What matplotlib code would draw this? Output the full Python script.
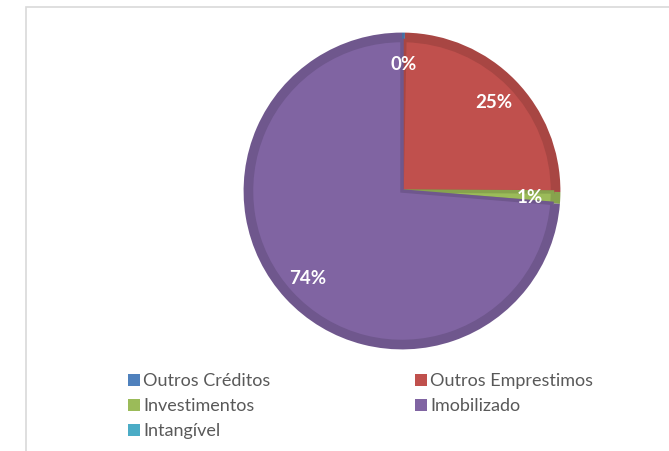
import matplotlib
matplotlib.use("Agg")
import matplotlib.pyplot as plt
from matplotlib.patches import Rectangle

# data
categories = ["Outros Créditos", "Outros Emprestimos", "Investimentos", "Imobilizado", "Intangível"]
values = [0.3, 24.8, 1.2, 73.7, 0.0]
colors = ["#4F81BD", "#C0504D", "#9BBB59", "#8064A2", "#4BACC6"]
rims = ["#446FA2", "#A84643", "#87A34D", "#6F578D", "#4196AD"]

W, H = 669, 452
fig = plt.figure(figsize=(W / 100, H / 100), dpi=100)

# chart area frame
fig.patches.append(Rectangle((26 / W, -0.1), 1.2, (H - 8) / H + 0.1, transform=fig.transFigure,
                             fill=False, edgecolor="#D9D9D9", linewidth=1.2))

cx, cy, r = 402, 192, 160
ax = fig.add_axes([(cx - r) / W, (H - cy - r) / H, 2 * r / W, 2 * r / H])

# dark rim, then the lighter inner face
ax.pie(values, colors=rims, startangle=90, counterclock=False, radius=1.0,
       wedgeprops=dict(linewidth=0))
wedges, _, autotexts = ax.pie(values, colors=colors, startangle=90, counterclock=False, radius=0.95,
                              autopct=lambda p: "%.0f%%" % p, pctdistance=0.85,
                              wedgeprops=dict(linewidth=2.5),
                              textprops=dict(color="white", fontsize=13.5, fontweight="bold",
                                             family="Lato"))
for w, c, v in zip(wedges, rims, values):
    w.set_edgecolor(c if v > 0 else "none")
autotexts[-1].set_visible(False)
ax.set_xlim(-1.01, 1.01)
ax.set_ylim(-1.01, 1.01)
ax.set_aspect("equal")
ax.axis("off")

# legend, two columns, row-wise
for i, (name, col) in enumerate(zip(categories, colors)):
    x0 = 128 + (i % 2) * 287
    y0 = 381 + (i // 2) * 25
    fig.patches.append(Rectangle((x0 / W, (H - y0 - 6) / H), 12 / W, 12 / H,
                                 transform=fig.transFigure, facecolor=col, edgecolor="none"))
    fig.text((x0 + 15) / W, (H - y0) / H, name, fontsize=13, color="#595959",
             family="Lato", va="center", ha="left")

fig.savefig("out.png", dpi=100)
